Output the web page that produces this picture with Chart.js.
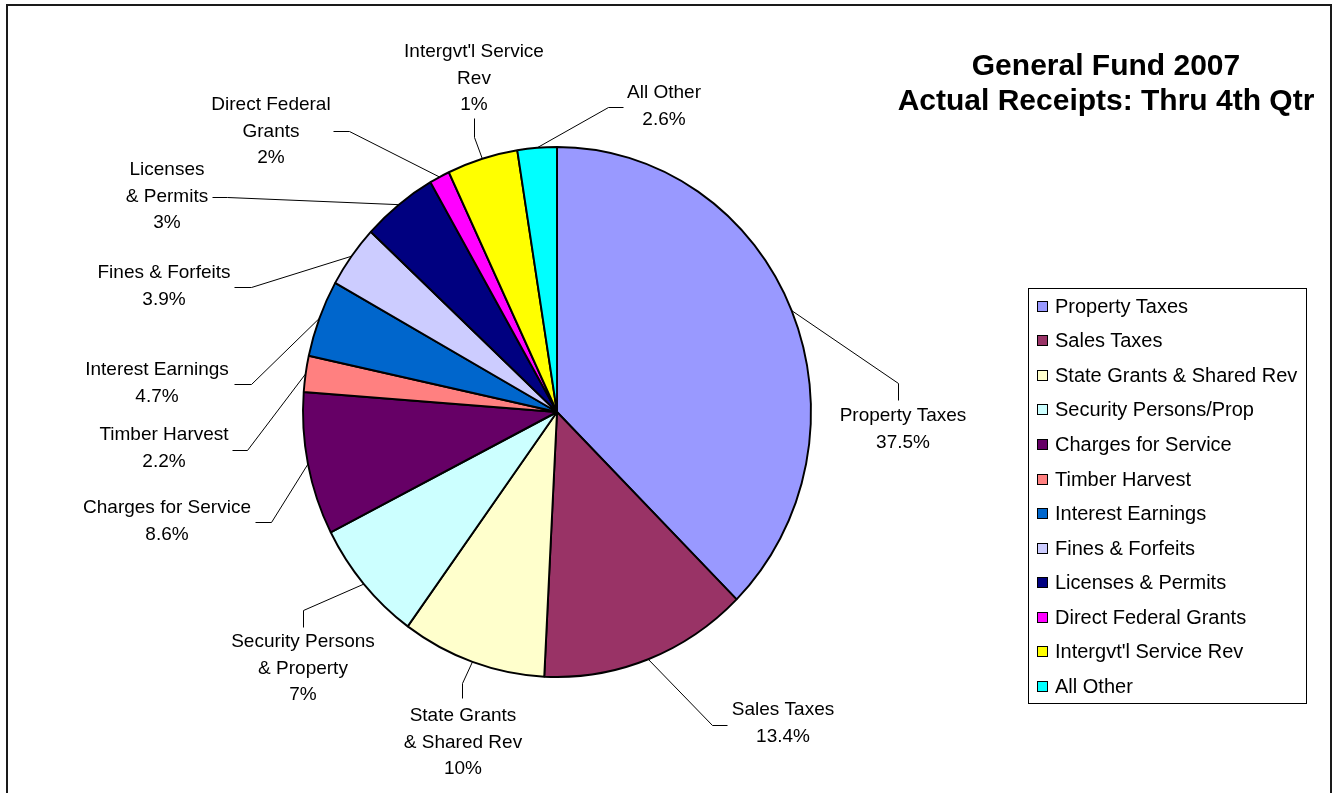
<!DOCTYPE html>
<html>
<head>
<meta charset="utf-8">
<title>General Fund 2007</title>
<script src="https://cdn.jsdelivr.net/npm/chart.js@4/dist/chart.umd.min.js"></script>
<style>
  html, body { margin: 0; padding: 0; background: #fff; }
  body {
    width: 1336px; height: 793px; position: relative; overflow: hidden;
    font-family: "Liberation Sans", Arial, sans-serif; color: #000;
  }
  #frame {
    position: absolute; left: 6px; top: 4px; width: 1322px; height: 820px;
    border: 2px solid #1a1a1a; box-sizing: content-box;
  }
  #chart { position: absolute; left: 0; top: 0; }
  #title {
    position: absolute; left: 856px; top: 47px; width: 500px;
    text-align: center; font-weight: bold; font-size: 30px; line-height: 35px;
  }
  #legend {
    position: absolute; left: 1028px; top: 288px; width: 279px; height: 416px;
    border: 1px solid #000; box-sizing: border-box;
  }
  .legend-item {
    height: 34.55px; display: flex; align-items: center; font-size: 20px;
  }
  .legend-color {
    width: 11px; height: 11px; border: 1px solid #000; box-sizing: border-box;
    margin-left: 8px; margin-right: 7px; flex: none;
  }
</style>
</head>
<body>
<div id="frame"></div>
<canvas id="chart" width="1336" height="793"></canvas>
<div id="title">General Fund 2007<br>Actual Receipts: Thru 4th Qtr</div>
<div id="legend"></div>
<script>
// categories (legend order)
var categories = [
  "Property Taxes",
  "Sales Taxes",
  "State Grants & Shared Rev",
  "Security Persons/Prop",
  "Charges for Service",
  "Timber Harvest",
  "Interest Earnings",
  "Fines & Forfeits",
  "Licenses & Permits",
  "Direct Federal Grants",
  "Intergvt'l Service Rev",
  "All Other",
];

// slice shares, %
var shares = [37.5, 13.3, 9.2, 7.5, 8.7, 2.2, 4.7, 3.8, 4.8, 1.3, 4.5, 2.5];

// text of the callouts as printed on the chart
var calloutNames = [
  ["Property Taxes"],
  ["Sales Taxes"],
  ["State Grants", "& Shared Rev"],
  ["Security Persons", "& Property"],
  ["Charges for Service"],
  ["Timber Harvest"],
  ["Interest Earnings"],
  ["Fines & Forfeits"],
  ["Licenses", "& Permits"],
  ["Direct Federal", "Grants"],
  ["Intergvt'l Service", "Rev"],
  ["All Other"],
];
var calloutPercents = ["37.5%", "13.4%", "10%", "7%", "8.6%", "2.2%", "4.7%", "3.9%", "3%", "2%", "1%", "2.6%"];

var colors = [
  "#9999ff", "#993366", "#ffffcc", "#ccffff", "#660066", "#ff8080",
  "#0066cc", "#ccccff", "#000080", "#ff00ff", "#ffff00", "#00ffff",
];

// where each callout sits: text centre x, first line y, elbow x/y, tail x/y
var calloutSpots = [
  [903, 416, 898, 383, 898, 400],
  [783, 710, 712, 725, 727, 725],
  [463, 716, 462, 683, 462, 698],
  [303, 642, 303, 610, 303, 627],
  [167, 508, 271, 522, 255, 522],
  [164, 435, 247, 450, 232, 450],
  [157, 370, 251, 384, 234, 384],
  [164, 273, 251, 287, 234, 287],
  [167, 170, 227, 197, 212, 197],
  [271, 105, 349, 131, 333, 131],
  [474, 52, 474, 137, 474, 118],
  [664, 93, 608, 107, 623, 107],
];

var xStretch = 254 / 265; // the pie is a little narrower than tall

// squeeze the pie horizontally
const squash = {
  id: "squash",
  beforeDatasetsDraw(chart) {
    const arc = chart.getDatasetMeta(0).data[0];
    const ctx = chart.ctx;
    ctx.save();
    ctx.translate(arc.x, arc.y);
    ctx.scale(xStretch, 1);
    ctx.translate(-arc.x, -arc.y);
  },
  afterDatasetsDraw(chart) {
    chart.ctx.restore();
  },
};

// leader lines and labels
const callouts = {
  id: "callouts",
  afterDraw(chart) {
    const ctx = chart.ctx;
    const arcs = chart.getDatasetMeta(0).data;
    ctx.save();
    ctx.font = '19px "Liberation Sans", Arial, sans-serif';
    ctx.textAlign = "center";
    ctx.textBaseline = "middle";
    arcs.forEach(function (arc, i) {
      const spot = calloutSpots[i];
      const mid = (arc.startAngle + arc.endAngle) / 2;
      const ex = arc.x + Math.cos(mid) * arc.outerRadius * xStretch;
      const ey = arc.y + Math.sin(mid) * arc.outerRadius;
      ctx.strokeStyle = "#000";
      ctx.lineWidth = 1;
      ctx.beginPath();
      ctx.moveTo(ex, ey);
      ctx.lineTo(spot[2] + 0.5, spot[3] + 0.5);
      ctx.lineTo(spot[4] + 0.5, spot[5] + 0.5);
      ctx.stroke();

      const lines = calloutNames[i].concat([calloutPercents[i]]);
      ctx.fillStyle = "#000";
      lines.forEach(function (t, k) {
        ctx.fillText(t, spot[0], spot[1] + k * 26.5);
      });
    });
    ctx.restore();
  },
};

new Chart(document.getElementById("chart"), {
  type: "pie",
  data: {
    labels: categories,
    datasets: [
      {
        data: shares,
        backgroundColor: colors,
        borderColor: "#000",
        borderWidth: 2,
      },
    ],
  },
  options: {
    responsive: false,
    animation: false,
    radius: 265,
    layout: { padding: { left: 0, right: 222, top: 31, bottom: 0 } },
    plugins: {
      legend: { display: false },
      tooltip: { enabled: false },
    },
  },
  plugins: [squash, callouts],
});

// legend box
var legendBox = document.getElementById("legend");
categories.forEach(function (label, index) {
  const item = document.createElement("div");
  item.className = "legend-item";
  item.innerHTML =
    '<span class="legend-color" style="background-color: ' + colors[index] + ';"></span>' + label;
  legendBox.appendChild(item);
});
</script>
</body>
</html>
